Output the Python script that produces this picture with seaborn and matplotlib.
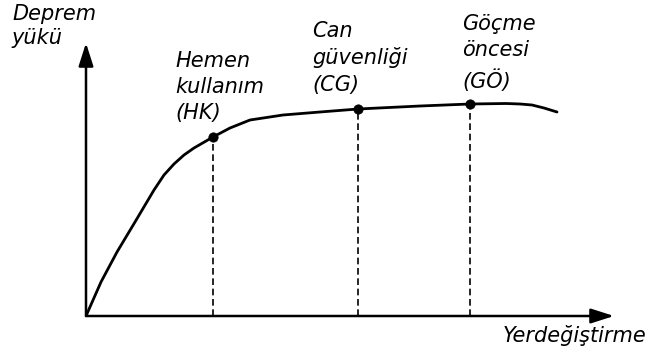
import matplotlib
matplotlib.use("Agg")
import matplotlib.pyplot as plt
import seaborn as sns
import pandas as pd

# Data (arbitrary units)
disp = [0, 15, 31, 49, 68, 78, 88, 98, 108, 127, 144, 164, 197, 234, 272, 334, 384, 420, 434, 446, 458, 471]
load = [0, 34, 64, 94, 126, 141, 152, 161, 168, 179, 188, 196, 201, 204, 207, 210, 212, 212.5, 212, 211, 208, 204]

level_names = ["HK", "CG", "GÖ"]
level_disp = [127, 272, 384]
level_load = [179, 207, 212]

W, H = 653, 358
sns.set_style("white")
plt.rcParams["font.family"] = ["DejaVu Sans"]
plt.rcParams["text.color"] = "black"

fig = plt.figure(figsize=(W / 100, H / 100), dpi=100)
x0, y0, x1, y1 = 86, 316, 614, 43
ax = fig.add_axes([x0 / W, (H - y0) / H, (x1 - x0) / W, (y0 - y1) / H])
XMAX, YMAX = x1 - x0, y0 - y1
ax.set_xlim(0, XMAX)
ax.set_ylim(0, YMAX)
ax.axis("off")

curve = pd.DataFrame({"disp": disp, "load": load})
sns.lineplot(data=curve, x="disp", y="load", ax=ax, color="black", lw=2.0,
             sort=False, estimator=None)
ax.lines[-1].set_solid_joinstyle("round")

pts = pd.DataFrame({"disp": level_disp, "load": level_load, "name": level_names})
for xd, yl in zip(level_disp, level_load):
    ax.plot([xd, xd], [0, yl], color="black", lw=1.2, dashes=(4, 2.2))
sns.scatterplot(data=pts, x="disp", y="load", ax=ax, color="black", s=45,
                edgecolor="black", zorder=5)

# axes arrows
arrow = dict(arrowstyle="-|>,head_length=1.0,head_width=0.32", color="black",
             lw=1.8, mutation_scale=14, shrinkA=0, shrinkB=0)
ax.annotate("", xy=(XMAX, 0), xytext=(0, 0), arrowprops=arrow, annotation_clip=False)
ax.annotate("", xy=(0, YMAX), xytext=(0, 0), arrowprops=arrow, annotation_clip=False)
ax.set_xlabel("")
ax.set_ylabel("")

fs = 15
def ptext(x, y, s):
    fig.text(x / W, 1 - y / H, s, fontsize=fs, style="italic", va="baseline",
             ha="left", color="black")

ptext(12, 20, "Deprem")
ptext(12, 44, "yükü")
ptext(175, 67, "Hemen")
ptext(175, 93, "kullanım")
ptext(175, 119, "(HK)")
ptext(312, 37, "Can")
ptext(312, 64, "güvenliği")
ptext(312, 91, "(CG)")
ptext(462, 30, "Göçme")
ptext(462, 56, "öncesi")
ptext(462, 88, "(GÖ)")
ptext(503, 342, "Yerdeğiştirme")

fig.savefig("out.png", dpi=100)
